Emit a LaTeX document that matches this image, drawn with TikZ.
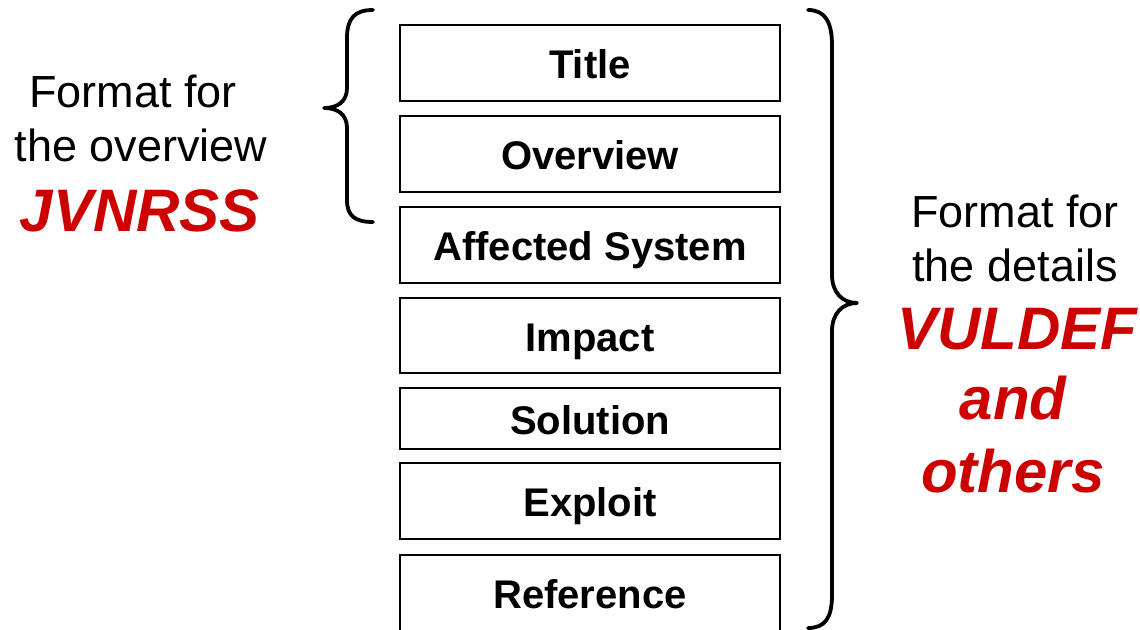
\documentclass[tikz,border=0pt]{standalone}
\usepackage{fontspec}
\setmainfont{Liberation Sans}
\definecolor{vulred}{HTML}{CC0000}
\tikzset{
  field/.style={draw,line width=1.3pt,minimum width=190pt,inner sep=0pt,
    font=\fontsize{20}{24}\selectfont\bfseries,text height=15.6pt,text depth=0pt},
  note/.style={anchor=base,inner sep=0pt,font=\fontsize{22.5}{27}\selectfont},
  fmt/.style={anchor=base,inner sep=0pt,text=vulred,
    font=\fontsize{30}{36}\selectfont\bfseries\itshape},
  curly/.style={line width=1.9pt,line cap=round,line join=round}
}
\begin{document}
\begin{tikzpicture}[x=0.5pt,y=-0.5pt]
  \useasboundingbox (0,0) rectangle (1140,630);
  % the fields of one entry
  \node[field,minimum height=38pt] (title) at (590,63) {Title};
  \node[field,minimum height=38pt] (overview) at (590,154) {Overview};
  \node[field,minimum height=38pt] (affected) at (590,245) {Affected System};
  \node[field,minimum height=37.5pt] (impact) at (590,335.5) {Impact};
  \node[field,minimum height=30.5pt] (solution) at (590,418.5) {Solution};
  \node[field,minimum height=38pt] (exploit) at (590,501) {Exploit};
  \node[field,minimum height=38pt] (reference) at (590,593) {Reference};
  % left brace, overview part
  \draw[curly] (373,10) .. controls (355,10) and (347,18) .. (347,38) -- (347,88)
    .. controls (347,102) and (337,108) .. (324,108)
    .. controls (337,108) and (347,114) .. (347,128) -- (347,200)
    .. controls (347,216) and (355,222) .. (373,222);
  % right brace, details part
  \draw[curly] (808,10) .. controls (825,10) and (832,22) .. (832,45) -- (832,275)
    .. controls (832,292) and (842,303) .. (857,303)
    .. controls (842,303) and (832,314) .. (832,331) -- (832,595)
    .. controls (832,618) and (825,628) .. (808,628);
  % labels
  \node[note] (ovline1) at (133,108) {Format for};
  \node[note] (ovline2) at (141,162) {the overview};
  \node[fmt] (jvn) at (140,232) {JVNRSS};
  \node[note] (dtline1) at (1015,228) {Format for};
  \node[note] (dtline2) at (1015,282) {the details};
  \node[fmt] (vuldef) at (1017,350) {VULDEF};
  \node[fmt] (andword) at (1013,420) {and};
  \node[fmt] (others) at (1013,492) {others};
\end{tikzpicture}
\end{document}
